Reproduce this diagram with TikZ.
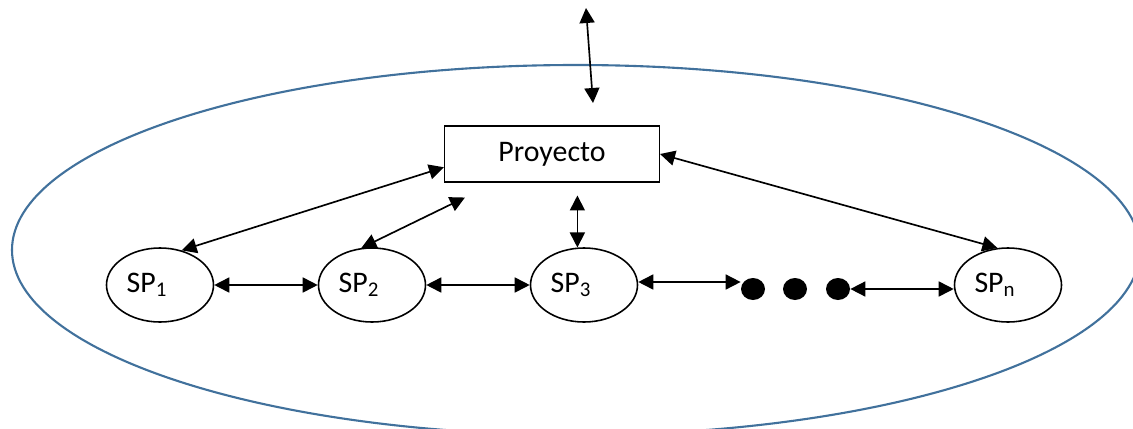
\documentclass[tikz,border=0pt]{standalone}
\usepackage{fontspec}
\setmainfont{Carlito}
\usetikzlibrary{arrows.meta,shapes.geometric}
\definecolor{outerblue}{RGB}{65,113,156}

\tikzset{
	subproj/.style={draw, ellipse, line width=0.9pt, minimum width=2.14cm, minimum height=1.48cm, inner sep=0pt, execute at begin node={\hspace*{-0.52cm}}},
	bigdot/.style={fill, ellipse, minimum width=0.48cm, minimum height=0.44cm, inner sep=0pt},
	link/.style={line width=0.95pt, {Triangle[length=0.3cm,width=0.3cm]}-{Triangle[length=0.3cm,width=0.3cm]}},
}

\begin{document}
\begin{tikzpicture}[font=\fontsize{17}{20}\selectfont]
		\useasboundingbox (0,0) rectangle (22.66,8.56);
		
		% OUTER ELLIPSE
		\draw[outerblue, line width=1.2pt] (11.52,3.56) ellipse [x radius=11.28, y radius=3.7];
		
		% PROJECT AND SUBPROJECTS
		\node[draw, line width=0.6pt, minimum width=4.3cm, minimum height=1.12cm] (pr) at (11.04,5.48) {Proyecto};
		\node[subproj] (sp1) at (3.2,2.86) {SP\textsubscript{1}};
		\node[subproj] (sp2) at (7.44,2.86) {SP\textsubscript{2}};
		\node[subproj] (sp3) at (11.68,2.86) {SP\textsubscript{3}};
		\node[subproj] (spn) at (20.16,2.86) {SP\textsubscript{n}};
		\node[bigdot] (d1) at (15.06,2.78) {};
		\node[bigdot] (d2) at (15.9,2.78) {};
		\node[bigdot] (d3) at (16.76,2.78) {};
		
		% FREE END ABOVE
		\coordinate (out) at (11.72,8.4);
		\coordinate (in) at (11.86,6.5);
		
		% CONNECTORS
		\draw[link] (out) -- (in);
		\draw[link] (pr.187) -- (sp1.58);
		\draw[link] ([xshift=0.42cm,yshift=-0.3cm]pr.south west) -- (sp2.106);
		\draw[link] (sp3.100) -- ++(0,1.04);
		\draw[link] (pr.east) -- (spn.106);
		\draw[link] (sp1) -- (sp2);
		\draw[link] (sp2) -- (sp3);
		\draw[link] ([yshift=0.06cm]sp3.east) -- ([yshift=0.06cm]sp3.east -| d1.west);
		\draw[link] (d3.east) -- (d3.east -| spn.west);
	\end{tikzpicture}
\end{document}
